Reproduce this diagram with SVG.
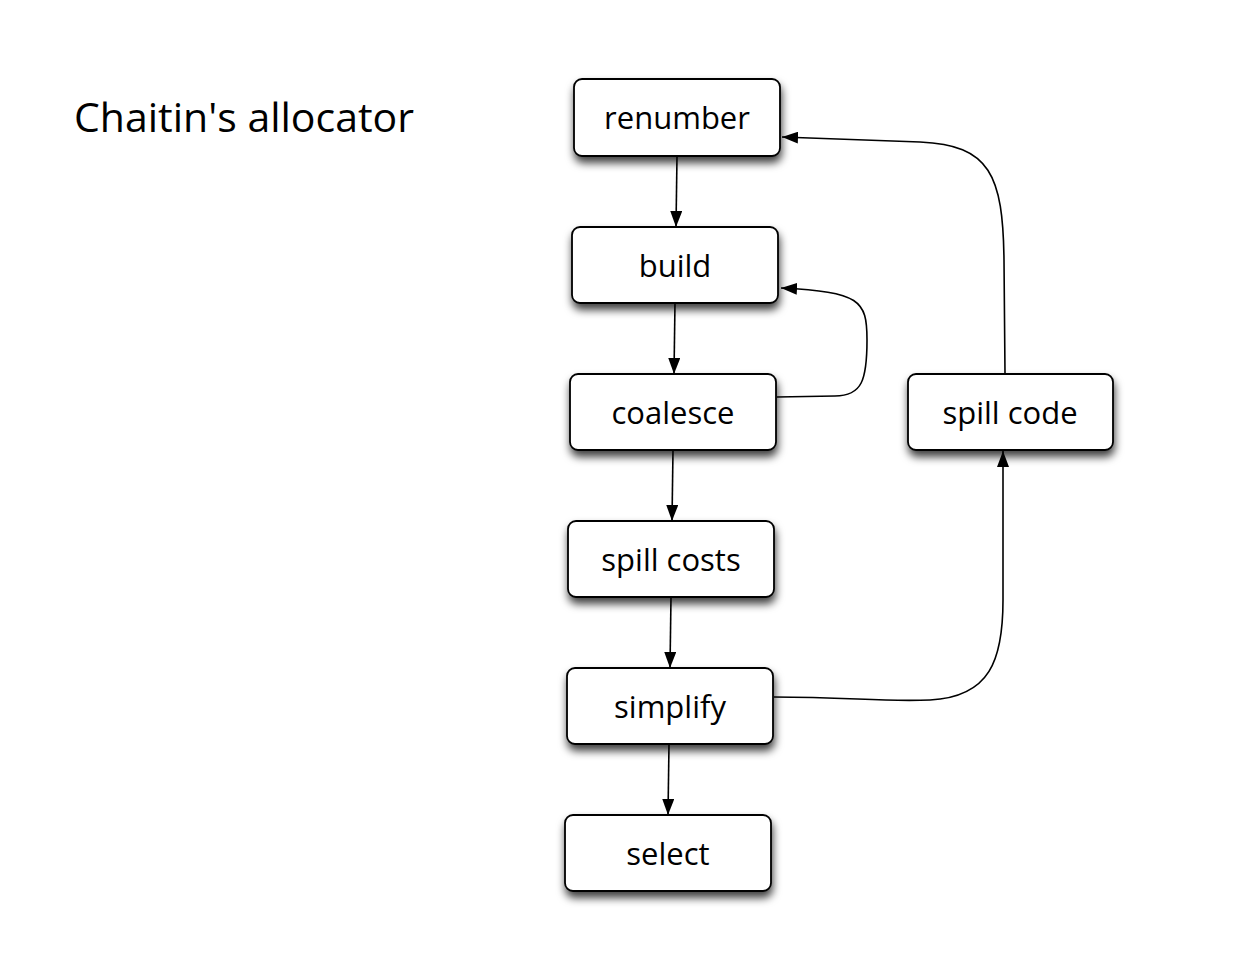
<svg xmlns="http://www.w3.org/2000/svg" width="1234" height="964" viewBox="0 0 1234 964">
<defs>
<filter id="sh" x="-20%" y="-20%" width="140%" height="170%">
<feDropShadow dx="1" dy="6" stdDeviation="4" flood-color="#000" flood-opacity="0.75"/>
</filter>
<marker id="ah" viewBox="0 0 16 12" refX="16" refY="6" markerWidth="16" markerHeight="12" markerUnits="userSpaceOnUse" orient="auto">
<path d="M0,0 L16,6 L0,12 z" fill="#000"/>
</marker>
</defs>
<style>
.box{fill:#fff;stroke:#000;stroke-width:1.8;filter:url(#sh)}
.lbl{font-family:"Open Sans","Liberation Sans",sans-serif;font-size:31px;fill:#000;text-anchor:middle}
.title{font-family:"Open Sans","Liberation Sans",sans-serif;font-size:41px;fill:#000}
.edge{fill:none;stroke:#000;stroke-width:1.6;marker-end:url(#ah)}
</style>
<rect width="1234" height="964" fill="#fff"/>
<text class="title" x="74" y="132">Chaitin's allocator</text>
<g id="connectors">
<path class="edge" d="M677,156 L676,227"/>
<path class="edge" d="M675,302 L674,374"/>
<path class="edge" d="M673,450 L672,521"/>
<path class="edge" d="M671,597 L670,668"/>
<path class="edge" d="M669,744 L668,815"/>
<path class="edge" d="M777,397 L835,396 C862,396 867,380 867,340 C867,300 860,292 781,288"/>
<path class="edge" d="M774,697 C850,697 880,702 930,700 C990,697 1003,660 1003,600 L1003,451"/>
<path class="edge" d="M1005,374 L1004,260 C1003,175 990,145 920,142 L782,137"/>
</g>
<g id="renumber"><rect class="box" x="574" y="79" width="206" height="77" rx="8"/><text class="lbl" x="677" y="129">renumber</text></g>
<g id="build"><rect class="box" x="572" y="227" width="206" height="76" rx="8"/><text class="lbl" x="675" y="277">build</text></g>
<g id="coalesce"><rect class="box" x="570" y="374" width="206" height="76" rx="8"/><text class="lbl" x="673" y="424">coalesce</text></g>
<g id="spill-costs"><rect class="box" x="568" y="521" width="206" height="76" rx="8"/><text class="lbl" x="671" y="571">spill costs</text></g>
<g id="simplify"><rect class="box" x="567" y="668" width="206" height="76" rx="8"/><text class="lbl" x="670" y="718">simplify</text></g>
<g id="select"><rect class="box" x="565" y="815" width="206" height="76" rx="8"/><text class="lbl" x="668" y="865">select</text></g>
<g id="spill-code"><rect class="box" x="908" y="374" width="205" height="76" rx="8"/><text class="lbl" x="1010" y="424">spill code</text></g>
</svg>
